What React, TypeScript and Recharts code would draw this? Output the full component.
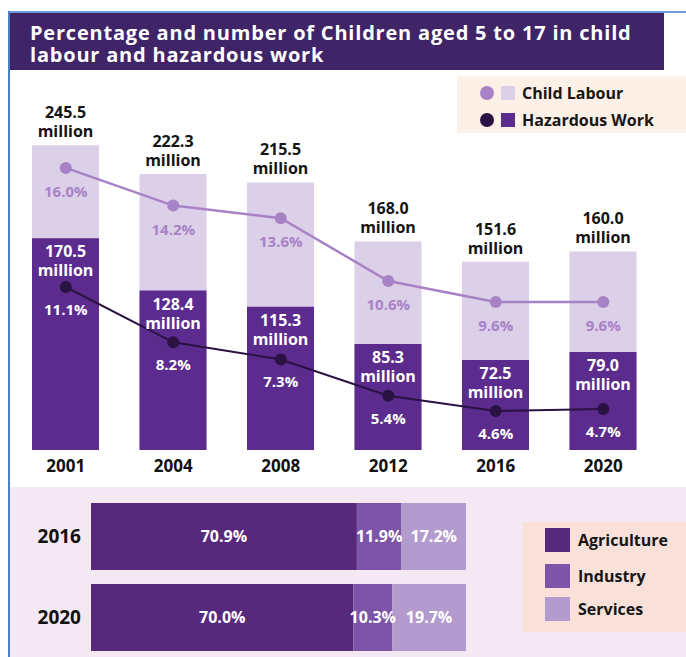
import React from 'react';
import { ComposedChart, BarChart, Bar, Line, XAxis, YAxis, LabelList } from 'recharts';

const years = ['2001', '2004', '2008', '2012', '2016', '2020'];
const childLabourMillions = [245.5, 222.3, 215.5, 168.0, 151.6, 160.0];
const hazardousMillions = [170.5, 128.4, 115.3, 85.3, 72.5, 79.0];
const childLabourPct = [16.0, 14.2, 13.6, 10.6, 9.6, 9.6];
const hazardousPct = [11.1, 8.2, 7.3, 5.4, 4.6, 4.7];

const sectorYears = ['2016', '2020'];
const agriculturePct = [70.9, 70.0];
const industryPct = [11.9, 10.3];
const servicesPct = [17.2, 19.7];

const topData = years.map((year, i) => ({
  year,
  total: childLabourMillions[i],
  hazardous: hazardousMillions[i],
  clPct: childLabourPct[i],
  hwPct: hazardousPct[i],
}));

const sectorData = sectorYears.map((year, i) => ({
  year,
  agriculture: agriculturePct[i],
  industry: industryPct[i],
  services: servicesPct[i],
}));

const FONT = '"Open Sans", Lato, sans-serif';
const LIGHT = '#dcd0e8';
const DARK = '#5c2b8e';
const CL_LINE = '#a882c6';
const HW_LINE = '#2a1242';
const AGRI = '#56297c';
const IND = '#7c55a8';
const SERV = '#b39bcd';

const TotalLabel = (props: any) => {
  const { x, y, width, value } = props;
  const cx = x + width / 2;
  return (
    <text textAnchor="middle" fontFamily={FONT} fontWeight={700} fontSize={16} fill="#141414">
      <tspan x={cx} y={y - 33 + 6}>{Number(value).toFixed(1)}</tspan>
      <tspan x={cx} y={y - 14 + 6}>million</tspan>
    </text>
  );
};

const HazLabel = (props: any) => {
  const { x, y, width, value } = props;
  const cx = x + width / 2;
  return (
    <text textAnchor="middle" fontFamily={FONT} fontWeight={700} fontSize={16} fill="#ffffff">
      <tspan x={cx} y={y + 13 + 6}>{Number(value).toFixed(1)}</tspan>
      <tspan x={cx} y={y + 32 + 6}>million</tspan>
    </text>
  );
};

const makePctLabel = (color: string, off: number) => (props: any) => {
  const { x, y, value } = props;
  return (
    <text x={x} y={y + off + 5} textAnchor="middle" fontFamily={FONT} fontWeight={700} fontSize={15} fill={color}>
      {Number(value).toFixed(1)}%
    </text>
  );
};

const SectorLabel = (props: any) => {
  const { x, y, width, height, value } = props;
  return (
    <text x={x + width / 2} y={y + height / 2 + 5} textAnchor="middle" fontFamily={FONT} fontWeight={700} fontSize={16} fill="#ffffff">
      {Number(value).toFixed(1)}%
    </text>
  );
};

export default function App() {
  return (
    <div style={{ position: 'absolute', left: 0, top: 0, width: 686, height: 657, background: '#ffffff', overflow: 'hidden', fontFamily: FONT }}>
      {/* frame lines */}
      <div style={{ position: 'absolute', left: 8, top: 11, width: 678, height: 2, background: '#6f9bd8' }} />
      <div style={{ position: 'absolute', left: 8, top: 11, width: 2, height: 646, background: '#4d7fc6' }} />
      {/* title banner */}
      <div style={{ position: 'absolute', left: 10, top: 13, width: 654, height: 57, background: '#3f2468', boxSizing: 'border-box', paddingLeft: 20, paddingTop: 9, color: '#ffffff', fontSize: 20, letterSpacing: '0.8px', fontWeight: 700, lineHeight: '22px', whiteSpace: 'nowrap' }}>
        <div style={{ height: 22 }}>Percentage and number of Children aged 5 to 17 in child</div>
        <div style={{ height: 22 }}>labour and hazardous work</div>
      </div>
      {/* top legend */}
      <div style={{ position: 'absolute', left: 457, top: 76, width: 229, height: 57, background: '#fdf0e6' }}>
        {[
          { c: CL_LINE, s: LIGHT, t: 'Child Labour', y: 17 },
          { c: HW_LINE, s: DARK, t: 'Hazardous Work', y: 44 },
        ].map((it) => (
          <div key={it.t} style={{ position: 'absolute', left: 0, top: it.y - 10, height: 20, width: 229 }}>
            <div style={{ position: 'absolute', left: 23, top: 3, width: 14, height: 14, borderRadius: 7, background: it.c }} />
            <div style={{ position: 'absolute', left: 44, top: 3, width: 14, height: 14, background: it.s }} />
            <div style={{ position: 'absolute', left: 65, top: 0, lineHeight: '20px', fontSize: 16, fontWeight: 700, color: '#161616' }}>{it.t}</div>
          </div>
        ))}
      </div>
      {/* top chart */}
      <div style={{ position: 'absolute', left: 0, top: 0 }}>
        <ComposedChart width={686} height={480} data={topData} margin={{ top: 90, right: 29, left: 12, bottom: 0 }}>
          <XAxis xAxisId="a" dataKey="year" height={30} axisLine={false} tickLine={false} tickMargin={4}
            tick={{ fontSize: 17, fontWeight: 700, fill: '#111111', fontFamily: FONT }} interval={0} />
          <XAxis xAxisId="b" dataKey="year" hide />
          <YAxis yAxisId="m" hide domain={[0, 290]} />
          <YAxis yAxisId="cl" hide domain={[2.53, 19.72]} />
          <YAxis yAxisId="hw" hide domain={[2.556, 21.425]} />
          <Bar xAxisId="a" yAxisId="m" dataKey="total" fill={LIGHT} barSize={67} isAnimationActive={false}>
            <LabelList dataKey="total" content={TotalLabel} />
          </Bar>
          <Bar xAxisId="b" yAxisId="m" dataKey="hazardous" fill={DARK} barSize={67} isAnimationActive={false}>
            <LabelList dataKey="hazardous" content={HazLabel} />
          </Bar>
          <Line xAxisId="a" yAxisId="cl" dataKey="clPct" stroke={CL_LINE} strokeWidth={2.5} dot={{ r: 6, fill: CL_LINE, stroke: CL_LINE, strokeWidth: 0 }} activeDot={false} isAnimationActive={false}>
            <LabelList dataKey="clPct" content={makePctLabel(CL_LINE, 24)} />
          </Line>
          <Line xAxisId="a" yAxisId="hw" dataKey="hwPct" stroke={HW_LINE} strokeWidth={2} dot={{ r: 6, fill: HW_LINE, stroke: HW_LINE, strokeWidth: 0 }} activeDot={false} isAnimationActive={false}>
            <LabelList dataKey="hwPct" content={makePctLabel('#ffffff', 23)} />
          </Line>
        </ComposedChart>
      </div>
      {/* bottom section background */}
      <div style={{ position: 'absolute', left: 10, top: 487, width: 676, height: 170, background: '#f4e8f3' }} />
      {/* bottom legend */}
      <div style={{ position: 'absolute', left: 523, top: 522, width: 163, height: 110, background: '#f9e1da' }}>
        {[
          { c: AGRI, t: 'Agriculture', y: 18 },
          { c: IND, t: 'Industry', y: 54 },
          { c: SERV, t: 'Services', y: 87 },
        ].map((it) => (
          <div key={it.t} style={{ position: 'absolute', left: 0, top: it.y - 12, height: 24, width: 163 }}>
            <div style={{ position: 'absolute', left: 22, top: 0, width: 25, height: 24, background: it.c }} />
            <div style={{ position: 'absolute', left: 55, top: 1, lineHeight: '22px', fontSize: 16, fontWeight: 700, color: '#161616' }}>{it.t}</div>
          </div>
        ))}
      </div>
      {/* bottom chart */}
      <div style={{ position: 'absolute', left: 0, top: 487 }}>
        <BarChart layout="vertical" width={686} height={171} data={sectorData} margin={{ top: 9, right: 220, left: 9, bottom: 0 }}>
          <XAxis type="number" domain={[0, 100]} hide />
          <YAxis type="category" dataKey="year" width={82} axisLine={false} tickLine={false} tickMargin={4}
            tick={{ fontSize: 19, fontWeight: 700, fill: '#111111', fontFamily: FONT }} />
          <Bar dataKey="agriculture" stackId="s" fill={AGRI} barSize={67} isAnimationActive={false}>
            <LabelList dataKey="agriculture" content={SectorLabel} />
          </Bar>
          <Bar dataKey="industry" stackId="s" fill={IND} barSize={67} isAnimationActive={false}>
            <LabelList dataKey="industry" content={SectorLabel} />
          </Bar>
          <Bar dataKey="services" stackId="s" fill={SERV} barSize={67} isAnimationActive={false}>
            <LabelList dataKey="services" content={SectorLabel} />
          </Bar>
        </BarChart>
      </div>
    </div>
  );
}
